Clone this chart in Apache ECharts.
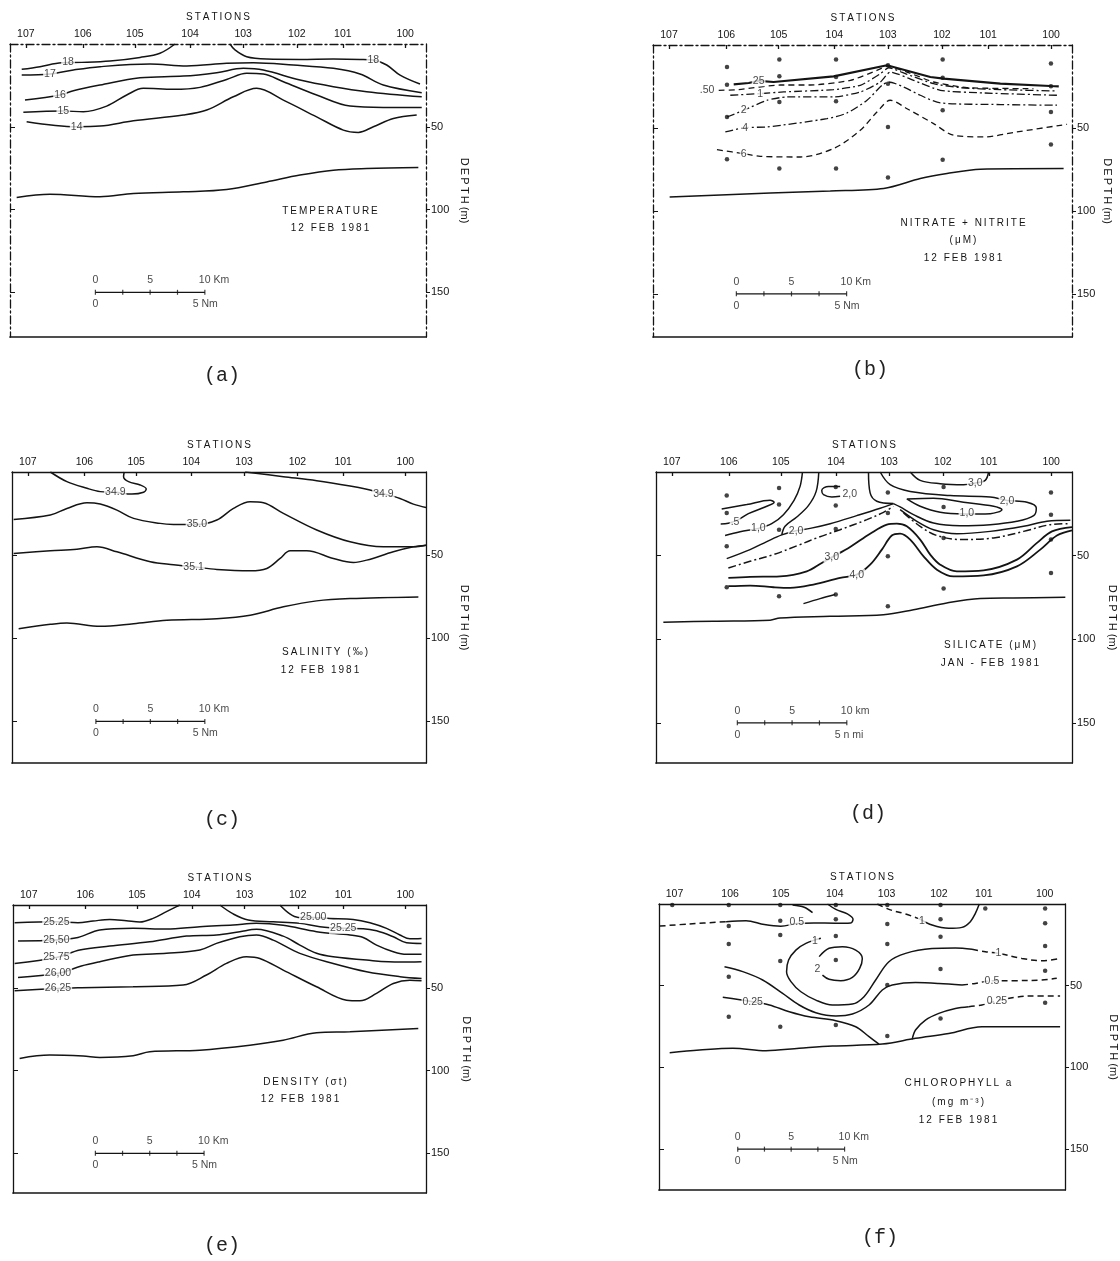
<!DOCTYPE html>
<html><head><meta charset="utf-8">
<script src="https://cdn.jsdelivr.net/npm/echarts@6/dist/echarts.min.js"></script>
<style>html,body{margin:0;padding:0;background:#fff;}#c{width:1120px;height:1261px;}</style>
</head><body><div id="c"></div>
<script>
// ---------- shared axes ----------
const STATIONS = ['107','106','105','104','103','102','101','100'];
const STATION_KM = [1.45, 6.65, 11.4, 16.45, 21.3, 26.2, 30.4, 36.1];
const DEPTH_TICKS = [50, 100, 150];
const SCALE_KM_MARKS = [0, 5, 10];
const SCALE_KM_TICKS = [0, 2.5, 5, 7.5, 10];
const SCALE_NM_MARKS = [0, 5];
const KM_PER_NM = 1.852;

// ---------- (a) temperature ----------
const TEMP_18_W = [[1.07,15.3],[2.74,13.7],[4.72,11.3],[6.55,11.1],[9.14,10.3],[11.88,8.1],[13.70,5.6],[15.07,0]];
const TEMP_18_E = [[20.10,0],[20.55,3.6],[21.62,7.7],[23.45,9.1],[26.49,9.3],[29.54,9.1],[31.97,9.3],[33.19,9.7],[34.41,12.7],[35.63,18.8],[37.45,24.2]];
const TEMP_17 = [[1.07,18.8],[3.65,18.1],[5.79,15.7],[8.22,13.7],[12.79,12.1],[16.14,13.3],[19.79,11.7],[22.23,11.3],[25.88,12.7],[29.54,14.7],[31.97,18.1],[34.10,24.8],[37.61,29.4]];
const TEMP_16 = [[1.37,33.9],[4.57,30.8],[5.79,28.2],[8.22,24.8],[11.88,20.4],[15.83,19.4],[18.88,17.3],[21.32,14.7],[23.14,15.7],[26.49,21.8],[29.54,25.8],[32.58,28.8],[37.61,31.9]];
const TEMP_15 = [[1.22,41.3],[4.87,40.5],[6.70,40.9],[8.83,37.5],[10.66,30.8],[12.18,26.8],[14.92,27.4],[17.36,26.2],[19.79,21.4],[21.62,17.7],[23.14,18.1],[24.97,22.8],[28.01,30.8],[31.06,37.5],[34.10,38.3],[37.61,38.3]];
const TEMP_14 = [[1.52,47.0],[6.09,50.0],[8.22,49.6],[11.27,46.4],[15.83,42.9],[17.97,39.9],[20.40,31.9],[22.53,26.8],[24.97,33.9],[28.01,44.0],[30.45,52.0],[31.82,53.4],[33.19,50.0],[35.02,45.0],[37.15,42.9]];
const TEMP_BOTTOM = [[0.61,92.7],[3.65,90.7],[8.22,92.3],[11.27,90.3],[15.83,89.3],[19.79,87.9],[23.45,83.3],[26.49,79.2],[29.54,76.2],[32.58,75.2],[37.30,74.6]];
const TEMP_LABELS = [[5.3,11.2,'18'],[33.19,9.7,'18'],[3.65,18.1,'17'],[4.57,30.8,'16'],[4.87,40.5,'15'],[6.09,50.0,'14']];

// ---------- (b) nitrate + nitrite ----------
const NO3_025 = [[7.32,23.7],[8.68,22.9],[9.58,21.6],[10.94,22.3],[16.38,18.9],[21.22,12.2],[25.15,19.3],[26.36,20.3],[31.50,23.3],[36.03,24.7],[36.8,24.9]];
const NO3_050 = [[5.96,27.3],[7.77,26.9],[11.55,24.1],[14.27,24.1],[17.90,21.3],[20.31,15.3],[21.22,12.9],[23.03,16.3],[25.45,22.3],[28.47,25.7],[34.5,26.3]];
const NO3_1 = [[7.01,30.3],[9.73,29.3],[11.85,28.3],[16.38,26.9],[18.80,24.3],[20.62,17.3],[21.37,13.7],[23.04,17.7],[25.45,23.3],[27.87,25.7],[31.50,26.9],[36.64,27.7]];
const NO3_2 = [[6.71,43.4],[8.22,39.4],[10.34,33.3],[12.15,31.3],[16.38,31.3],[18.80,28.3],[20.62,22.3],[21.52,16.3],[23.64,21.3],[26.06,27.3],[29.99,28.9],[36.64,30.3]];
const NO3_4 = [[6.56,52.4],[8.37,49.8],[10.34,49.4],[15.78,44.4],[17.59,41.0],[19.41,33.3],[20.77,24.3],[21.37,22.3],[22.73,25.3],[24.24,30.3],[26.06,34.9],[31.50,35.9],[36.64,36.3]];
const NO3_6 = [[5.80,63.1],[8.22,65.5],[9.73,67.1],[13.36,67.5],[16.38,62.4],[18.80,51.4],[20.31,40.4],[21.52,33.3],[23.04,38.4],[25.45,47.4],[27.27,54.4],[29.99,55.4],[33.01,52.4],[36.94,48.4],[37.55,47.8]];
const NO3_BOTTOM = [[1.51,91.6],[10.64,89.2],[16.08,88.0],[20.92,86.5],[24.24,80.5],[26.66,77.5],[29.69,74.9],[37.24,74.5]];
const NO3_LABELS = [[9.58,21.6,'25'],[4.90,27.3,'.50'],[9.73,29.3,'1'],[8.22,39.4,'2'],[8.37,49.8,'4'],[8.22,65.5,'6']];
const NO3_DOTS = [[6.71,13.3],[6.71,23.9],[6.71,43.4],[6.71,68.9],[11.46,8.8],[11.46,18.9],[11.46,34.3],[11.46,74.5],[16.60,8.8],[16.60,19.3],[16.60,33.9],[16.60,74.5],[21.31,12.2],[21.31,23.3],[21.31,49.4],[21.31,79.9],[26.27,8.8],[26.27,19.7],[26.27,39.4],[26.27,69.1],[36.09,11.2],[36.09,24.9],[36.09,40.4],[36.09,60.0]];

// ---------- (c) salinity ----------
const SAL_349_W = [[3.52,0],[5.04,5.8],[6.88,9.8],[8.10,11.8],[9.48,12.2],[11.01,13.3],[12.08,12.2],[12.32,10.2],[11.77,7.8],[10.70,5.8],[10.24,2.8],[10.30,0]];
const SAL_349_E = [[21.40,0],[24.91,2.8],[27.97,5.2],[31.03,8.4],[32.56,10.4],[34.09,13.0],[35.61,15.9],[36.84,19.3],[38.0,21.3]];
const SAL_350 = [[0.15,28.5],[3.52,25.9],[5.04,21.9],[6.88,18.5],[8.10,19.3],[9.63,22.9],[11.16,27.9],[13.60,30.9],[14.83,31.5],[16.97,31.6],[18.80,28.9],[20.33,21.9],[21.86,17.9],[23.08,18.5],[24.91,24.9],[27.97,34.9],[31.03,42.0],[34.09,45.0],[36.84,45.0],[38.0,44.0]];
const SAL_351 = [[0.15,49.0],[3.52,47.4],[5.96,46.4],[7.80,45.0],[9.63,48.0],[12.69,54.0],[14.83,55.8],[16.66,57.0],[18.80,58.6],[21.86,59.4],[23.39,58.0],[24.61,52.0],[25.53,47.4],[27.05,47.4],[29.50,52.0],[31.33,54.4],[32.56,53.0],[35.00,48.0],[36.84,45.0],[38.0,44.0]];
const SAL_BOTTOM = [[0.61,94.2],[3.52,91.6],[5.04,90.8],[8.10,92.8],[11.16,91.2],[14.22,89.2],[18.80,88.2],[21.86,86.1],[24.91,81.1],[27.97,77.5],[31.03,76.1],[37.30,75.1]];
const SAL_LABELS = [[9.48,12.2,'34.9'],[34.09,13.0,'34.9'],[16.97,31.6,'35.0'],[16.66,57.0,'35.1']];

// ---------- (d) silicate ----------
const SIL_05 = [[6.00,22.1],[8.29,19.5],[10.42,16.9],[10.79,18.1],[9.96,20.9],[8.44,24.9],[7.53,28.5],[6.61,30.7],[5.91,31.1]];
const SIL_10 = [[6.31,38.0],[7.68,35.7],[9.35,33.7],[10.57,30.9],[11.64,25.5],[12.61,16.9],[13.16,8.6],[13.38,0]];
const SIL_20A = [[6.46,51.8],[8.59,46.4],[10.12,41.6],[11.49,37.6],[12.80,35.1],[14.08,33.7],[15.91,30.9],[18.34,26.1],[20.48,21.7],[21.69,18.9]];
const SIL_20B = [[14.87,0],[14.63,11.6],[13.92,20.1],[12.86,26.9],[11.79,32.5],[11.49,37.6]];
const SIL_20S = [[16.82,8.6],[15.75,8.6],[15.14,11.0],[15.30,13.5],[16.06,14.9],[16.82,14.5]];
const SIL_25 = [[6.61,57.4],[8.59,53.4],[10.73,49.4],[13.16,43.4],[14.69,39.4],[16.82,34.5],[19.26,28.5],[20.78,24.1],[21.69,20.5]];
const SIL_30 = [[6.61,63.3],[8.59,62.7],[11.33,62.4],[13.77,59.4],[15.14,54.4],[16.06,51.0],[17.73,44.8],[19.56,36.9],[21.09,31.5],[22.00,30.9],[22.91,32.5],[24.13,40.4],[25.05,49.4],[25.96,55.4],[27.48,59.4],[29.92,58.8],[32.97,52.4],[34.80,42.4],[36.17,35.5],[38.0,32.9]];
const SIL_40 = [[6.61,68.3],[8.59,67.9],[10.73,68.9],[12.25,69.3],[14.38,67.3],[16.82,63.3],[18.34,61.4],[19.56,55.4],[20.63,46.4],[21.54,38.0],[22.30,36.9],[23.22,40.4],[24.44,50.4],[25.66,58.4],[27.18,62.4],[29.92,61.8],[32.97,56.4],[35.10,46.4],[36.62,38.0],[38.0,34.9]];
const SIL_50 = [[13.47,78.7],[14.99,75.7],[16.36,73.3]];
const SIL_BOWL = [[19.41,0],[19.56,12.5],[20.17,17.5],[21.69,18.9]];
const SIL_20_LOOP = [[20.48,0],[21.39,7.6],[23.22,11.6],[26.87,14.1],[30.53,14.9],[32.06,17.0],[33.89,18.1],[34.74,21.5],[34.50,26.1],[32.97,29.5],[30.53,31.5],[27.79,32.1],[25.35,30.5],[23.52,25.5],[22.30,20.9],[21.69,18.9]];
const SIL_10_LOOP = [[22.91,16.1],[25.35,15.7],[28.09,18.1],[30.84,20.5],[31.60,22.5],[30.53,24.9],[28.09,25.1],[25.96,24.1],[24.13,20.5],[22.91,16.1]];
const SIL_30_TOP = [[23.22,0],[24.13,5.0],[25.96,7.0],[28.09,7.6],[29.16,6.6],[30.07,5.0],[30.38,0]];
const SIL_R1 = [[22.30,22.5],[23.83,29.5],[25.35,34.5],[27.48,36.9],[30.53,35.5],[33.58,32.5],[35.71,29.5],[37.85,28.9]];
const SIL_R2 = [[22.61,24.5],[24.13,32.5],[25.66,38.0],[27.79,40.4],[30.84,39.4],[33.58,35.5],[36.02,31.5],[37.85,30.9]];
const SIL_BOTTOM = [[0.67,89.8],[5.24,89.2],[10.42,88.6],[11.33,87.3],[15.91,86.3],[20.78,85.3],[23.52,82.3],[26.57,78.3],[29.62,75.7],[32.66,75.3],[37.39,74.9]];
const SIL_LABELS = [[7.22,30.1,'.5'],[9.35,33.7,'1,0'],[12.80,35.1,'2,0'],[17.7,13.5,'2,0'],[16.06,51.0,'3,0'],[18.34,61.4,'4,0'],[29.16,6.4,'3,0'],[32.06,17.3,'2,0'],[28.4,24.8,'1,0']];
const SIL_DOTS = [[6.46,14.1],[6.46,24.5],[6.46,44.4],[6.46,68.9],[11.24,9.6],[11.24,19.5],[11.24,34.5],[11.24,74.3],[16.42,9.0],[16.42,20.1],[16.42,34.1],[16.42,73.3],[21.18,12.2],[21.18,24.5],[21.18,50.4],[21.18,80.3],[26.27,9.0],[26.27,20.9],[26.27,39.4],[26.27,69.7],[36.08,12.2],[36.08,25.5],[36.08,40.4],[36.08,60.4]];

// ---------- (e) density ----------
const DEN_2525_W = [[0.15,10.7],[3.99,10.1],[5.98,10.7],[7.37,9.7],[8.90,8.7],[10.43,9.5],[11.66,10.3],[12.89,8.1],[14.12,4.0],[15.04,1.0],[15.35,0]];
const DEN_2500 = [[24.55,0],[25.47,5.4],[26.24,7.5],[27.62,7.6],[29.16,8.1],[31.30,8.7],[32.84,10.7],[34.37,14.1],[35.60,18.1],[36.52,20.4],[37.59,20.2]];
const DEN_2525_E = [[19.03,0],[20.26,5.4],[21.64,9.1],[23.94,10.1],[26.39,11.1],[28.24,13.1],[30.38,14.1],[32.22,14.3],[33.45,15.6],[34.99,19.2],[36.21,22.8],[37.59,23.2]];
const DEN_2550 = [[0.46,21.8],[3.99,21.2],[5.98,19.6],[7.98,15.1],[11.05,14.1],[14.12,14.5],[17.19,13.1],[20.26,12.1],[22.40,11.1],[24.86,12.3],[27.93,16.1],[31.00,18.1],[32.22,19.6],[33.45,24.2],[34.99,28.2],[36.21,29.8],[37.59,29.8]];
const DEN_2575 = [[0.15,35.3],[3.99,31.7],[6.14,27.2],[8.90,24.8],[12.58,22.2],[15.96,18.8],[18.72,18.1],[20.87,16.1],[22.40,14.7],[24.86,18.8],[26.39,24.2],[27.93,29.2],[29.46,31.3],[32.53,33.3],[35.60,34.5],[37.59,34.3]];
const DEN_2600 = [[0.46,43.8],[4.14,41.3],[6.29,36.9],[7.98,34.3],[11.05,30.2],[14.12,29.2],[17.19,27.2],[18.72,23.2],[20.87,19.2],[22.40,18.1],[23.94,21.2],[26.39,29.2],[29.46,35.3],[32.53,40.3],[35.60,43.3],[37.59,44.4]];
const DEN_2625 = [[0.15,51.8],[4.14,50.4],[6.29,50.0],[11.05,49.4],[15.65,48.4],[17.80,42.3],[19.64,35.3],[21.48,31.3],[22.71,32.3],[24.86,39.3],[27.93,49.4],[30.69,57.5],[31.92,57.9],[33.45,53.4],[34.99,47.4],[36.52,45.4],[37.59,45.8]];
const DEN_BOTTOM = [[0.61,92.7],[3.38,90.7],[6.45,91.3],[7.98,92.1],[11.05,91.1],[12.58,88.7],[17.19,87.7],[21.79,84.7],[24.86,81.7],[27.93,77.2],[31.00,76.6],[37.29,74.6]];
const DEN_LABELS = [[3.99,10.1,'25.25'],[27.62,7.6,'25.00'],[30.38,14.1,'25.25'],[3.99,21.2,'25,50'],[3.99,31.7,'25.75'],[4.14,41.3,'26,00'],[4.14,50.4,'26,25']];

// ---------- (f) chlorophyll ----------
const CHL_05_W_DASH = [[0.06,13.5],[2.86,12.2],[6.28,10.8]];
const CHL_05_TOP = [[6.28,10.8],[8.15,10.2],[9.86,12.6],[11.4,13.6],[12.9,12.0],[14.5,11.6],[16.5,11.8],[17.94,11.6],[18.16,9.4],[17.63,6.1],[16.55,3.3],[15.77,0]];
const CHL_05_SMALL = [[12.50,0.6],[13.59,2.0],[14.37,5.3]];
const CHL_1_TOP_DASH = [[20.43,0],[21.52,3.3],[23.08,6.1],[24.48,9.4]];
const CHL_1_TOP = [[24.48,9.4],[25.56,12.9],[27.12,14.9],[28.36,14.3],[29.14,10.8],[29.61,5.7],[29.98,0]];
const CHL_1 = [[15.15,21.0],[13.75,24.1],[12.81,28.2],[12.13,34.3],[11.94,41.4],[12.35,47.5],[13.28,53.7],[14.68,58.8],[16.23,61.8],[18.10,61.2],[19.19,56.7],[20.28,46.5],[21.52,35.3],[23.08,30.2],[25.56,27.3],[27.74,26.9],[29.30,27.7]];
const CHL_1_E_DASH = [[29.30,27.7],[30.54,29.2],[31.78,30.2],[33.96,33.3],[35.83,34.7],[37.54,33.3]];
const CHL_2 = [[15.30,43.5],[15.92,46.1],[17.01,46.9],[18.10,44.9],[18.78,39.4],[19.03,33.3],[18.41,28.2],[17.17,26.1],[15.92,27.1],[14.99,32.2]];
const CHL_05_M = [[6.13,38.4],[7.84,41.4],[9.70,46.5],[11.57,54.7],[13.12,61.8],[14.68,66.5],[16.55,68.5],[18.10,67.3],[19.66,61.8],[20.90,52.6],[21.83,49.6],[24.01,48.1],[26.19,48.6],[28.36,49.6]];
const CHL_05_M_DASH = [[28.36,49.6],[29.61,48.6],[31.16,46.9],[33.34,46.9],[35.83,46.5],[37.23,45.5]];
const CHL_025_W = [[5.97,57.1],[8.77,59.8],[10.33,61.8],[12.19,65.9],[14.06,69.0],[16.55,71.4],[18.41,75.1],[19.66,81.2],[20.59,85.7]];
const CHL_025_E = [[23.70,82.8],[24.01,77.1],[24.94,71.0],[26.19,66.9],[27.74,63.9],[28.99,62.8]];
const CHL_025_E_DASH = [[28.99,62.8],[30.23,61.8],[31.63,59.2],[33.34,57.1],[34.89,56.3],[37.54,56.3]];
const CHL_BOTTOM = [[1.0,91.0],[3.79,89.4],[6.90,88.3],[10.01,89.8],[13.12,88.3],[16.23,86.9],[20.90,85.7],[24.01,82.2],[27.12,79.2],[30.23,75.1],[33.34,75.1],[37.54,75.1]];
const CHL_LABELS = [[12.9,11.2,'0.5'],[24.6,10.2,'1'],[14.6,23.0,'1'],[14.83,40.0,'2'],[31.78,30.2,'1'],[31.16,46.9,'0.5'],[8.77,59.8,'0.25'],[31.63,59.2,'0.25']];
const CHL_DOTS = [[1.24,0.6],[6.53,0.6],[6.53,13.5],[6.53,24.5],[6.53,44.5],[6.53,69.0],[11.35,0.6],[11.35,10.2],[11.35,19.0],[11.35,34.9],[11.35,75.1],[16.55,0.6],[16.55,9.4],[16.55,19.6],[16.55,34.3],[16.55,74.1],[21.37,0.6],[21.37,12.2],[21.37,24.5],[21.37,49.6],[21.37,80.8],[26.35,0.6],[26.35,9.4],[26.35,20.0],[26.35,39.8],[26.35,70.0],[30.54,2.7],[36.14,2.7],[36.14,11.8],[36.14,25.7],[36.14,40.8],[36.14,60.4]];

// ---------- styling / layout ----------
const INK = '#141414';
const FONT = '"Liberation Sans", Arial, sans-serif';
const MONO = '"Liberation Mono", "DejaVu Sans Mono", monospace';
const DASH = [6, 4];
const DASHDOT = [8, 3, 2, 3];
const sp = s => s.split('').join('\u2009');

const PANELS = [
  { grid:{left:10, top:44, width:416, height:293}, yMax:177, dashedFrame:true, ticks:true,
    lines:[[TEMP_18_W],[TEMP_18_E],[TEMP_17],[TEMP_16],[TEMP_15],[TEMP_14],[TEMP_BOTTOM]],
    labels:TEMP_LABELS, dots:null, scaleStart:7.8, km:'Km', nm:'Nm',
    texts:[['TEMPERATURE',330,211],['12 FEB 1981',330,228]], caption:['(a)',222,376], nameGap:33 },
  { grid:{left:653, top:45, width:419, height:292}, yMax:176, dashedFrame:true, ticks:true,
    lines:[[NO3_025,'solid',2.2,0],[NO3_050,DASH,1.3,0.2],[NO3_1,DASHDOT,1.3,0.2],[NO3_2,DASHDOT,1.3,0.2],[NO3_4,DASHDOT,1.3,0.25],[NO3_6,DASH,1.3,0.3],[NO3_BOTTOM,'solid',1.5,0.3]],
    labels:NO3_LABELS, dots:NO3_DOTS, scaleStart:7.56, km:'Km', nm:'Nm',
    texts:[['NITRATE + NITRITE',963,223],['(\u03bcM)',963,240],['12 FEB 1981',963,258]], caption:['(b)',870,370], nameGap:30 },
  { grid:{left:12, top:472, width:414, height:291}, yMax:175, dashedFrame:false, ticks:true,
    lines:[[SAL_349_W],[SAL_349_E],[SAL_350],[SAL_351],[SAL_BOTTOM]],
    labels:SAL_LABELS, dots:null, scaleStart:7.7, km:'Km', nm:'Nm',
    texts:[['SALINITY (\u2030)',325,652],['12 FEB 1981',320,670]], caption:['(c)',222,820], nameGap:33 },
  { grid:{left:656, top:472, width:416, height:291}, yMax:174, dashedFrame:false, ticks:true,
    lines:[[SIL_05],[SIL_10],[SIL_20A],[SIL_20B],[SIL_20S],[SIL_25,DASHDOT],[SIL_30,'solid',1.8],[SIL_40,'solid',1.8],[SIL_50],[SIL_BOWL],[SIL_20_LOOP],[SIL_10_LOOP],[SIL_30_TOP],[SIL_R1],[SIL_R2,DASHDOT],[SIL_BOTTOM]],
    labels:SIL_LABELS, dots:SIL_DOTS, scaleStart:7.43, km:'km', nm:'n mi',
    texts:[['SILICATE (\u03bcM)',990,645],['JAN - FEB 1981',990,663]], caption:['(d)',868,814], nameGap:35 },
  { grid:{left:13, top:905, width:413, height:288}, yMax:174, dashedFrame:false, ticks:true,
    lines:[[DEN_2525_W],[DEN_2500],[DEN_2525_E],[DEN_2550],[DEN_2575],[DEN_2600],[DEN_2625],[DEN_BOTTOM]],
    labels:DEN_LABELS, dots:null, scaleStart:7.58, km:'Km', nm:'Nm',
    texts:[['DENSITY (\u03c3t)',305,1082],['12 FEB 1981',300,1099]], caption:['(e)',222,1246], nameGap:35 },
  { grid:{left:659, top:904, width:408, height:286}, yMax:175, dashedFrame:false, ticks:false,
    lines:[[CHL_05_W_DASH,DASH],[CHL_05_TOP],[CHL_05_SMALL],[CHL_1_TOP_DASH,DASH],[CHL_1_TOP],[CHL_1],[CHL_1_E_DASH,DASH],[CHL_2],[CHL_05_M],[CHL_05_M_DASH,DASH],[CHL_025_W],[CHL_025_E],[CHL_025_E_DASH,DASH],[CHL_BOTTOM]],
    labels:CHL_LABELS, dots:CHL_DOTS, scaleStart:7.37, km:'Km', nm:'Nm',
    texts:[['CHLOROPHYLL a',958,1083],['(mg m\u207b\u00b3)',958,1102],['12 FEB 1981',958,1120]], caption:['(f)',880,1238], nameGap:43 }
];

const grids = [], xAxes = [], yAxes = [], series = [], graphics = [];

function stationName(v) {
  let best = 0;
  STATION_KM.forEach((k, i) => { if (Math.abs(k - v) < Math.abs(STATION_KM[best] - v)) best = i; });
  return STATIONS[best];
}

PANELS.forEach((p, i) => {
  grids.push(Object.assign({}, p.grid));
  const frameType = p.dashedFrame ? DASHDOT : 'solid';
  xAxes.push({
    gridIndex:i, type:'value', position:'top', min:0, max:38,
    name:sp('STATIONS'), nameLocation:'middle', nameGap:22,
    nameTextStyle:{fontSize:10, fontFamily:FONT, color:INK},
    axisLine:{show:true, onZero:false, lineStyle:{color:INK, width:1.3, type:frameType}},
    axisTick:{show:p.ticks, inside:true, length:4, customValues:STATION_KM, lineStyle:{color:INK, width:1.3}},
    axisLabel:{show:true, customValues:STATION_KM, formatter:v => stationName(v), fontSize:10.5, fontFamily:FONT, color:INK, margin:4},
    splitLine:{show:false}
  });
  xAxes.push({
    gridIndex:i, type:'value', position:'bottom', min:0, max:38,
    axisLine:{show:true, onZero:false, lineStyle:{color:INK, width:1.7}},
    axisTick:{show:false}, axisLabel:{show:false}, splitLine:{show:false}
  });
  yAxes.push({
    gridIndex:i, type:'value', position:'right', inverse:true, min:0, max:p.yMax,
    name:'D\u2009E\u2009P\u2009T\u2009H (m)', nameLocation:'middle', nameRotate:-90, nameGap:p.nameGap,
    nameTextStyle:{fontSize:11, fontFamily:FONT, color:INK},
    axisLine:{show:true, onZero:false, lineStyle:{color:INK, width:1.3, type:frameType}},
    axisTick:{show:true, inside:false, length:4, customValues:DEPTH_TICKS, lineStyle:{color:INK}},
    axisLabel:{show:true, customValues:DEPTH_TICKS, fontSize:11, fontFamily:FONT, color:INK, margin:5},
    splitLine:{show:false}
  });
  yAxes.push({
    gridIndex:i, type:'value', position:'left', inverse:true, min:0, max:p.yMax,
    axisLine:{show:true, onZero:false, lineStyle:{color:INK, width:1.3, type:frameType}},
    axisTick:{show:true, inside:true, length:5, customValues:DEPTH_TICKS, lineStyle:{color:INK}},
    axisLabel:{show:false}, splitLine:{show:false}
  });
  const ax = {xAxisIndex:2*i, yAxisIndex:2*i};

  p.lines.forEach(([data, type, width, smooth]) => {
    series.push(Object.assign({
      type:'line', data, symbol:'none', silent:true, z:2,
      smooth: smooth === undefined ? 0.35 : smooth,
      lineStyle:{color:INK, width:width || 1.5, type:type || 'solid'}
    }, ax));
  });
  if (p.dots) {
    series.push(Object.assign({type:'scatter', data:p.dots, symbol:'circle', symbolSize:4.5, itemStyle:{color:INK}, silent:true, z:4}, ax));
  }
  series.push(Object.assign({
    type:'scatter', silent:true, z:6, symbolSize:1, itemStyle:{color:'rgba(0,0,0,0)'},
    data:p.labels.map(l => ({value:[l[0], l[1]], name:l[2]})),
    label:{show:true, position:'inside', formatter:'{b}', color:INK, fontSize:10.5, fontFamily:FONT, backgroundColor:'#fff', padding:[0,1]}
  }, ax));

  // scale bar (km along the section, drawn at 150 m)
  const s = p.scaleStart, yb = 150;
  series.push(Object.assign({type:'line', data:[[s,yb],[s+10,yb]], symbol:'none', silent:true, lineStyle:{color:INK, width:1.2}}, ax));
  series.push(Object.assign({type:'scatter', data:SCALE_KM_TICKS.map(k => [s+k, yb]), symbol:'rect', symbolSize:[1.2,5], itemStyle:{color:INK}, silent:true}, ax));
  series.push(Object.assign({
    type:'scatter', silent:true, symbolSize:1, itemStyle:{color:'rgba(0,0,0,0)'},
    data:SCALE_KM_MARKS.map((m, j) => j === SCALE_KM_MARKS.length - 1
      ? {value:[s+m, yb], name:m + ' ' + p.km, label:{align:'left', offset:[-6,0]}}
      : {value:[s+m, yb], name:String(m)}),
    label:{show:true, position:'top', distance:6, formatter:'{b}', color:INK, fontSize:10.5, fontFamily:FONT}
  }, ax));
  series.push(Object.assign({
    type:'scatter', silent:true, symbolSize:1, itemStyle:{color:'rgba(0,0,0,0)'},
    data:SCALE_NM_MARKS.map((m, j) => j === SCALE_NM_MARKS.length - 1
      ? {value:[s+m*KM_PER_NM, yb], name:m + ' ' + p.nm, label:{align:'left', offset:[-4,0]}}
      : {value:[s+m*KM_PER_NM, yb], name:String(m)}),
    label:{show:true, position:'bottom', distance:6, formatter:'{b}', color:INK, fontSize:10.5, fontFamily:FONT}
  }, ax));

  p.texts.forEach(([t, x, y]) => {
    graphics.push({type:'text', x, y, silent:true, style:{text:sp(t), fill:INK, font:'10px ' + FONT, textAlign:'center', textVerticalAlign:'middle'}});
  });
  graphics.push({type:'text', x:p.caption[1], y:p.caption[2], silent:true,
    style:{text:p.caption[0], fill:'#222', font:'20px ' + MONO, textAlign:'center', textVerticalAlign:'middle'}});
});

const chart = echarts.init(document.getElementById('c'), null, {renderer:'canvas', width:1120, height:1261});
chart.setOption({
  animation:false, backgroundColor:'#fff',
  grid:grids, xAxis:xAxes, yAxis:yAxes, series, graphic:graphics
});
</script></body></html>
